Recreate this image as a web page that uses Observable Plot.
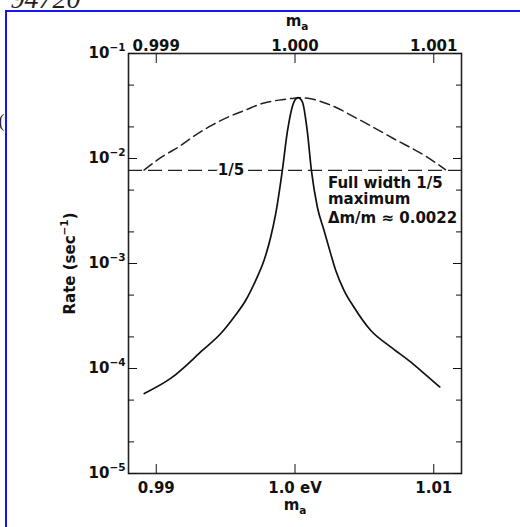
<!DOCTYPE html>
<html>
<head>
<meta charset="utf-8">
<script src="https://cdn.jsdelivr.net/npm/d3@7"></script>
<script src="https://cdn.jsdelivr.net/npm/@observablehq/plot@0.6"></script>
<style>
  html, body { margin: 0; padding: 0; background: #fff; }
  #wrap { position: relative; width: 520px; height: 527px; overflow: hidden; background: #fff; }
  #wrap svg { position: absolute; left: 0; top: 0; }
  #border { position: absolute; left: 5px; top: 10px; width: 700px; height: 700px; border: 2px solid rgb(20,20,235); box-sizing: border-box; pointer-events: none; }
</style>
</head>
<body>
<div id="wrap">
  <div id="chart"></div>
  <div id="border"></div>
</div>
<script>
// ---- data ----
const xTicks = [0.99, 1.0, 1.01];
const xTickLabelsBottom = ["0.99", "1.0 eV", "1.01"];
const xTickLabelsTop = ["0.999", "1.000", "1.001"];

const yTicks = [1e-5, 1e-4, 1e-3, 1e-2, 1e-1];
const yTickLabels = ["10^{−5}", "10^{−4}", "10^{−3}", "10^{−2}", "10^{−1}"];
const yMinorTicks = [2e-5, 5e-5, 2e-4, 5e-4, 2e-3, 5e-3, 2e-2, 5e-2];

// solid curve: rate (sec^-1) vs m_a (bottom axis, eV)
const solidMass = [0.98914, 0.99106, 0.99334, 0.99465, 0.99561, 0.99645, 0.99717, 0.99777, 0.99825, 0.99861,
                   0.99909, 0.99945, 0.99993, 1.00022, 1.00053, 1.00089, 1.00118, 1.00161, 1.00209, 1.00257,
                   1.00293, 1.00353, 1.00424, 1.00545, 1.00689, 1.00833, 1.00953, 1.01043];
const solidRate = [5.78e-5, 8.09e-5, 1.493e-4, 2.153e-4, 3.097e-4, 4.467e-4, 6.918e-4, 1.072e-3, 1.786e-3, 2.985e-3,
                   7.762e-3, 0.01799, 0.03467, 0.03793, 0.03467, 0.01799, 7.762e-3, 3.451e-3, 2.070e-3, 1.242e-3,
                   8.610e-4, 5.559e-4, 3.855e-4, 2.312e-4, 1.607e-4, 1.156e-4, 8.453e-5, 6.683e-5];

// dashed curve: same resonance on the expanded top axis (m_a)
const dashedMassTop = [0.998912, 0.999043, 0.999163, 0.999283, 0.999403, 0.999523, 0.999643, 0.999763, 0.999883,
                       0.999978, 1.000019, 1.000113, 1.000233, 1.000473, 1.000712, 1.000953, 1.001084];
const dashedRate = [0.00776, 0.01040, 0.01294, 0.01671, 0.02080, 0.02500, 0.02891, 0.03342, 0.03597,
                    0.03733, 0.03793, 0.03707, 0.03319, 0.02307, 0.01542, 0.01030, 0.00782];

const fifthRate = 0.0077;   // 1/5 of the maximum rate
const noteLines = ["Full width 1/5", "maximum", "Δm/m ≈ 0.0022"];
const noteRates = [0.00527, 0.00366, 0.00241];
const noteMass = 1.00237;

// scraps of the surrounding page visible in the scan
const scrapTexts = ["94720", "("];

// ---- build tables ----
const solid = solidMass.map((m, i) => ({m, rate: solidRate[i]}));
// top axis value t corresponds to bottom value 1 + (t - 1) * 10
const dashed = dashedMassTop.map((t, i) => ({m: 1 + (t - 1) * 10, rate: dashedRate[i]}));
const notes = noteLines.map((text, i) => ({text, m: noteMass, rate: noteRates[i]}));

const FS = 15;
const chart = Plot.plot({
  width: 520,
  height: 527,
  marginLeft: 128,
  marginRight: 59,
  marginTop: 53,
  marginBottom: 54,
  style: {fontFamily: "'DejaVu Sans', sans-serif", fontWeight: "bold", fontSize: FS + "px", color: "#111", background: "transparent"},
  x: {type: "linear", domain: [0.988, 1.012]},
  y: {type: "log", domain: [1e-5, 1e-1]},
  marks: [
    Plot.ruleY([fifthRate], {stroke: "#222", strokeWidth: 1.4, strokeDasharray: "14,6"}),
    Plot.line(dashed, {x: "m", y: "rate", stroke: "#222", strokeWidth: 1.5, strokeDasharray: "10,5", curve: "monotone-x"}),
    Plot.line(solid, {x: "m", y: "rate", stroke: "#111", strokeWidth: 1.7, curve: "monotone-x"}),
    Plot.text(["1/5"], {x: 0.99539, y: fifthRate, text: d => d, stroke: "white", strokeWidth: 7, fill: "#111", lineAnchor: "middle"}),
    Plot.text(notes, {x: "m", y: "rate", text: "text", textAnchor: "start", lineAnchor: "bottom", fill: "#111"}),
    Plot.frame({stroke: "#222", strokeWidth: 1.6}),
    Plot.axisY({ticks: yTicks, anchor: "left", tickSize: -9, tickPadding: 12, tickFormat: d => yTickLabels[yTicks.indexOf(d)], label: null}),
    Plot.axisY({ticks: yTicks, anchor: "right", tickSize: -9, tickFormat: () => "", label: null}),
    Plot.axisY({ticks: yMinorTicks, anchor: "left", tickSize: -6, tickFormat: () => "", label: null}),
    Plot.axisY({ticks: yMinorTicks, anchor: "right", tickSize: -6, tickFormat: () => "", label: null}),
    Plot.axisX({ticks: xTicks, anchor: "bottom", tickSize: -9, tickPadding: 18, tickFormat: d => xTickLabelsBottom[xTicks.indexOf(d)], label: null}),
    Plot.axisX({ticks: xTicks, anchor: "top", tickSize: -9, tickPadding: 12, tickFormat: d => xTickLabelsTop[xTicks.indexOf(d)], label: null}),
    Plot.text(["m_{a}"], {frameAnchor: "top", x: 1.0, text: d => d, dy: -28, dx: 2, textAnchor: "middle", lineAnchor: "bottom"}),
    Plot.text(["m_{a}"], {frameAnchor: "bottom", x: 1.0, text: d => d, dy: 36, dx: 0, textAnchor: "middle", lineAnchor: "bottom"}),
    Plot.text(["Rate (sec^{−1})"], {frameAnchor: "left", text: d => d, rotate: -90, dx: -58, textAnchor: "middle", lineAnchor: "middle"}),
    // page scraps outside the figure (cut by the window edge)
    Plot.text([scrapTexts[0]], {frameAnchor: "top-left", text: d => d, dx: -118, dy: -46, textAnchor: "start", lineAnchor: "bottom",
      fontFamily: "'Liberation Serif', serif", fontWeight: "normal", fontSize: 28, fontStyle: "italic", fill: "#222"}),
    Plot.text([scrapTexts[1]], {frameAnchor: "top-left", text: d => d, dx: -130, dy: 73, textAnchor: "start", lineAnchor: "bottom",
      fontFamily: "'Liberation Serif', serif", fontWeight: "normal", fontSize: 18, fill: "#222"})
  ]
});

// turn ^{..} and _{..} into real super/subscript tspans
function richText(svg, fs) {
  const NS = "http://www.w3.org/2000/svg";
  svg.querySelectorAll("text").forEach(t => {
    const s = t.textContent;
    if (!/[\^_]\{/.test(s)) return;
    const re = /([\^_])\{([^}]*)\}/g;
    const parts = [];
    let last = 0, mm;
    while ((mm = re.exec(s))) {
      if (mm.index > last) parts.push({txt: s.slice(last, mm.index), k: 0});
      parts.push({txt: mm[2], k: mm[1] === "^" ? -1 : 1});
      last = re.lastIndex;
    }
    if (last < s.length) parts.push({txt: s.slice(last), k: 0});
    while (t.firstChild) t.removeChild(t.firstChild);
    let off = 0;
    parts.forEach(p => {
      const sp = document.createElementNS(NS, "tspan");
      const target = p.k < 0 ? -0.5 * fs : p.k > 0 ? 0.32 * fs : 0;
      if (target - off !== 0) sp.setAttribute("dy", (target - off).toFixed(2));
      off = target;
      if (p.k !== 0) sp.setAttribute("font-size", (0.7 * fs).toFixed(1) + "px");
      sp.textContent = p.txt;
      t.appendChild(sp);
    });
  });
}
richText(chart, FS);
document.getElementById("chart").appendChild(chart);
</script>
</body>
</html>
